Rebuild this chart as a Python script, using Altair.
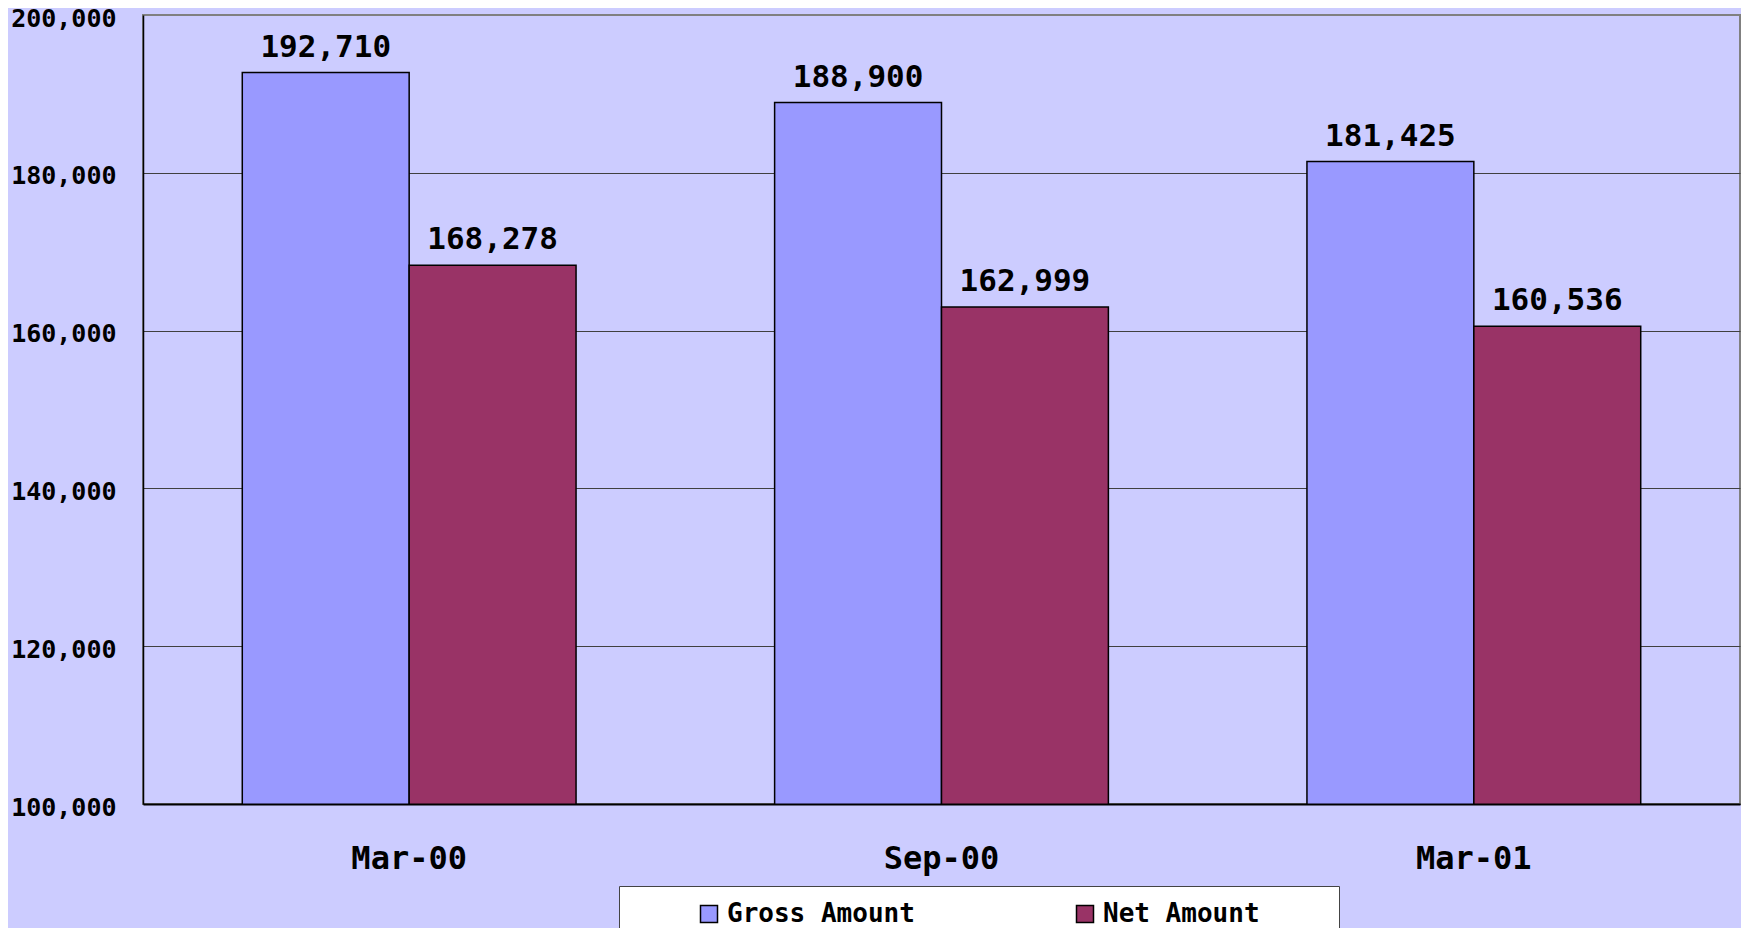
import altair as alt
import pandas as pd

periods = ["Mar-00", "Sep-00", "Mar-01"]
series = ["Gross Amount", "Net Amount"]
gross = [192710, 188900, 181425]
net = [168278, 162999, 160536]
colors = ["#9999FF", "#993366"]
y_ticks = [100000, 120000, 140000, 160000, 180000, 200000]

rows = []
for i, p in enumerate(periods):
    rows.append({"period": p, "series": series[0], "value": gross[i]})
    rows.append({"period": p, "series": series[1], "value": net[i]})
df = pd.DataFrame(rows)

FONT = "DejaVu Sans Mono"

x = alt.X(
    "period:N", sort=periods, title=None,
    scale=alt.Scale(paddingInner=0.373, paddingOuter=0.1865),
    axis=alt.Axis(labelAngle=0, labelFont=FONT, labelFontSize=32, labelFontWeight="bold",
                  labelColor="black", labelPadding=39, tickSize=0, domainColor="black",
                  domainWidth=2, grid=False, zindex=1),
)
y = alt.Y(
    "value:Q", title=None,
    scale=alt.Scale(domain=[100000, 200000], nice=False, zero=False),
    axis=alt.Axis(values=y_ticks, format=",.0f", labelFont=FONT, labelFontSize=25,
                  labelFontWeight="bold", labelColor="black", labelPadding=27, tickSize=0,
                  labelOffset=3, domainColor="black", domainWidth=1.5, grid=True,
                  gridColor={"condition": {"test": "datum.value >= 200000", "value": "#808080"},
                             "value": "#404040"},
                  gridWidth=1.2),
)
xoff = alt.XOffset("series:N", sort=series, scale=alt.Scale(paddingInner=0, paddingOuter=0))

color = alt.Color(
    "series:N",
    scale=alt.Scale(domain=series, range=colors),
    legend=alt.Legend(
        orient="none", legendX=476, legendY=871, direction="horizontal",
        title="MMM", titleOrient="right", titleOpacity=0, titleFont=FONT, titleFontSize=20,
        titlePadding=27,
        labelFont=FONT, labelFontSize=26, labelFontWeight="bold", labelColor="black",
        labelLimit=500,
        symbolType="square", symbolSize=289, symbolStrokeColor="black",
        symbolStrokeWidth=1.5, symbolOpacity=1, symbolOffset=62, labelOffset=5,
        columnPadding=95,
        fillColor="white", strokeColor="#444444", padding=15,
    ),
)

base = alt.Chart(df)
bars = base.mark_bar(stroke="black", strokeWidth=1.5, opacity=1, clip=True).encode(
    x=x, xOffset=xoff, y=y, color=color
)
labels = base.mark_text(font=FONT, fontSize=31, fontWeight="bold", dy=-16, color="black",
                        baseline="alphabetic").encode(
    x=x, xOffset=xoff, y=y, text=alt.Text("value:Q", format=",")
)

chart = alt.layer(bars, labels).properties(
    width=1597, height=789,
    padding={"left": 135, "top": 7, "right": 1, "bottom": 124},
    autosize=alt.AutoSizeParams(type="none"),
    background="#CCCCFF",
).configure_view(fill="#CCCCFF", stroke="#808080", strokeWidth=2)

chart.save("out.html", embed_options={"renderer": "svg", "actions": False})
